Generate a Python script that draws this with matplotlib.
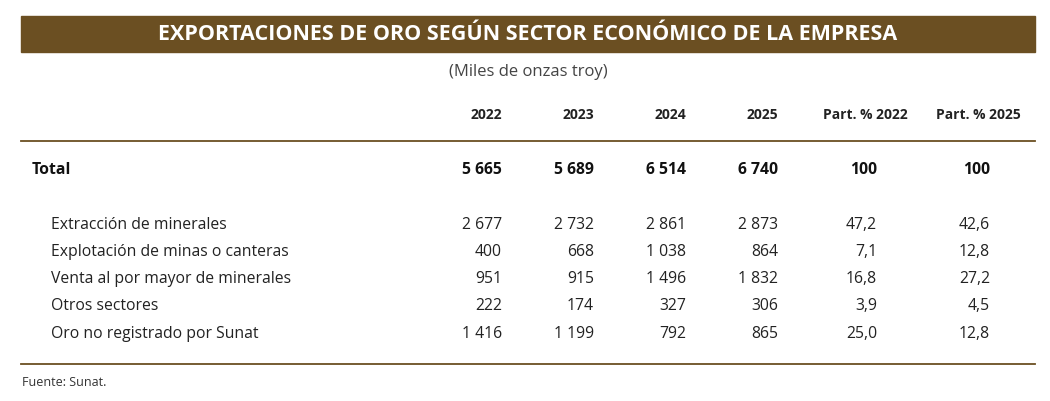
import matplotlib
matplotlib.use("Agg")
from matplotlib import pyplot as plt
from matplotlib.patches import Rectangle

plt.rcParams['font.family'] = ['Open Sans', 'DejaVu Sans']

columns = ['2022', '2023', '2024', '2025', 'Part. % 2022', 'Part. % 2025']
total = ['5 665', '5 689', '6 514', '6 740', '100', '100']
sectors = ['Extracción de minerales', 'Explotación de minas o canteras',
           'Venta al por mayor de minerales', 'Otros sectores',
           'Oro no registrado por Sunat']
values = [
    ['2 677', '2 732', '2 861', '2 873', '47,2', '42,6'],
    ['400', '668', '1 038', '864', '7,1', '12,8'],
    ['951', '915', '1 496', '1 832', '16,8', '27,2'],
    ['222', '174', '327', '306', '3,9', '4,5'],
    ['1 416', '1 199', '792', '865', '25,0', '12,8'],
]

brown = '#6b4f22'
fig = plt.figure(figsize=(10.5, 4.01), dpi=100)
ax = fig.add_axes([0, 0, 1, 1])
ax.set_xlim(0, 1050)
ax.set_ylim(401, 0)
ax.axis('off')

# barra del título
ax.add_patch(Rectangle((21, 16), 1014, 36, color=brown))
ax.text(528, 35, 'EXPORTACIONES DE ORO SEGÚN SECTOR ECONÓMICO DE LA EMPRESA',
        color='white', fontsize=15.5, fontweight='bold', ha='center', va='center')
ax.text(528, 72, '(Miles de onzas troy)', fontsize=12, color='#444444',
        ha='center', va='center')

# posiciones de columnas (borde derecho)
val_x = [502, 594, 686, 778, 877, 990]
head_x = [502, 594, 686, 778, 908, 1021]
for c, x in zip(columns, head_x):
    ax.text(x, 115, c, fontsize=10, fontweight='bold', ha='right', va='center',
            color='#222222')

ax.plot([21, 1035], [141, 141], color=brown, lw=1.3)

ax.text(32, 170, 'Total', fontsize=11.3, fontweight='bold', ha='left', va='center',
        color='#111111')
for v, x in zip(total, val_x):
    ax.text(x, 170, v, fontsize=11.3, fontweight='bold', ha='right', va='center',
            color='#111111')

row_y = [225, 252, 279, 306, 334]
for name, row, y in zip(sectors, values, row_y):
    ax.text(51, y, name, fontsize=11.3, ha='left', va='center', color='#222222')
    for v, x in zip(row, val_x):
        ax.text(x, y, v, fontsize=11.3, ha='right', va='center', color='#222222')

ax.plot([21, 1035], [364, 364], color=brown, lw=1.3)
ax.text(22, 383, 'Fuente: Sunat.', fontsize=9, ha='left', va='center',
        color='#333333')

fig.savefig('out.png', dpi=100)
